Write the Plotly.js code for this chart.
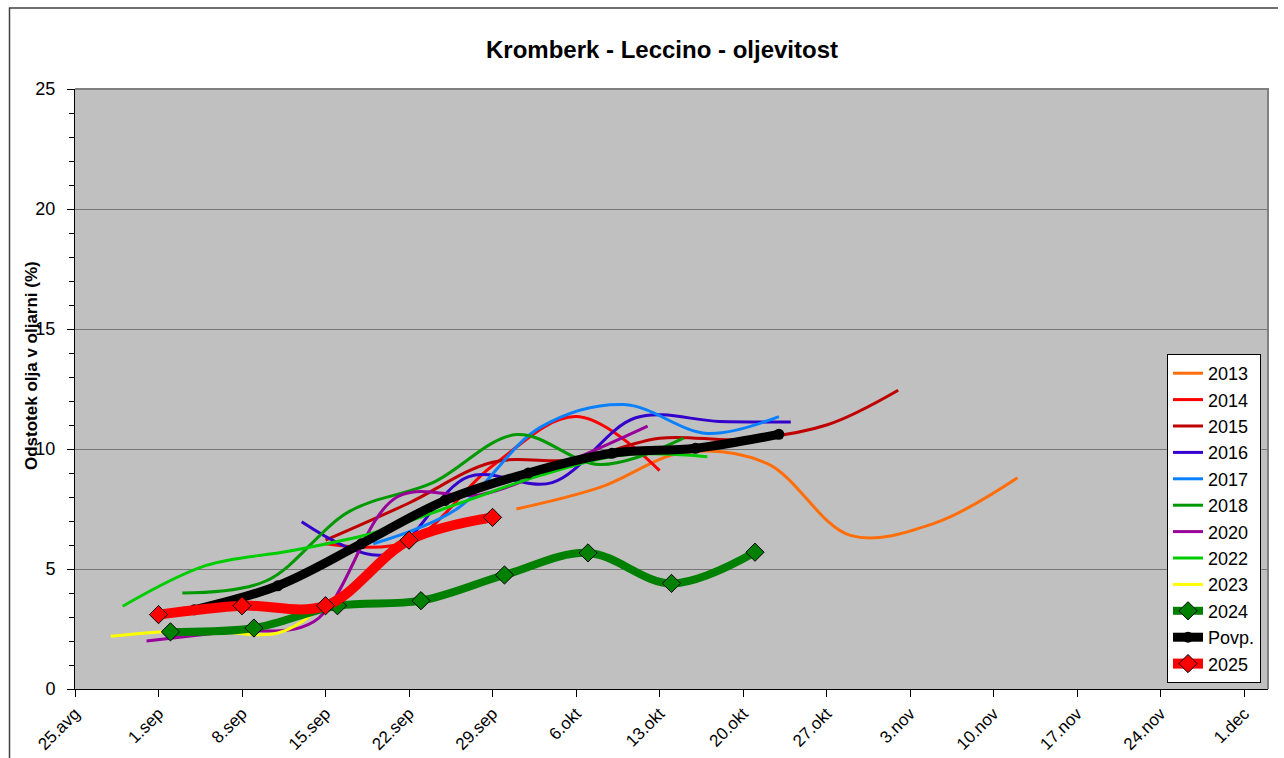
<!DOCTYPE html>
<html>
<head>
<meta charset="utf-8">
<script src="https://cdn.plot.ly/plotly-3.0.1.min.js"></script>
<style>html,body{margin:0;padding:0;background:#fff;}</style>
</head>
<body>
<div id="chart" style="width:1284px;height:758px;"></div>
<script>
// ---- data ----
const tickVals = ['2025-08-25','2025-09-01','2025-09-08','2025-09-15','2025-09-22','2025-09-29','2025-10-06','2025-10-13','2025-10-20','2025-10-27','2025-11-03','2025-11-10','2025-11-17','2025-11-24','2025-12-01'];
const tickText = ['25.avg','1.sep','8.sep','15.sep','22.sep','29.sep','6.okt','13.okt','20.okt','27.okt','3.nov','10.nov','17.nov','24.nov','1.dec'];

const x2013 = ['2025-10-01','2025-10-08','2025-10-15','2025-10-22','2025-10-29','2025-11-05','2025-11-12'];
const y2013 = [7.5, 8.4, 9.85, 9.4, 6.4, 6.9, 8.8];
const x2014 = ['2025-09-15','2025-09-22','2025-09-29','2025-10-06','2025-10-13'];
const y2014 = [6.05, 6.15, 9.3, 11.35, 9.1];
const x2015 = ['2025-09-15','2025-09-22','2025-09-29','2025-10-06','2025-10-13','2025-10-20','2025-10-27','2025-11-02'];
const y2015 = [6.2, 7.75, 9.45, 9.55, 10.45, 10.4, 11.0, 12.45];
const x2016 = ['2025-09-13','2025-09-20','2025-09-27','2025-10-04','2025-10-11','2025-10-18','2025-10-24'];
const y2016 = [6.97, 5.6, 8.85, 8.6, 11.3, 11.15, 11.13];
const x2017 = ['2025-09-19','2025-09-26','2025-10-03','2025-10-10','2025-10-17','2025-10-23'];
const y2017 = [6.05, 7.5, 10.9, 11.85, 10.65, 11.35];
const x2018 = ['2025-09-03','2025-09-10','2025-09-17','2025-09-24','2025-10-01','2025-10-08','2025-10-15'];
const y2018 = [4.0, 4.5, 7.4, 8.6, 10.6, 9.35, 10.45];
const x2020 = ['2025-08-31','2025-09-07','2025-09-14','2025-09-21','2025-09-28','2025-10-05','2025-10-12'];
const y2020 = [2.0, 2.4, 2.8, 8.0, 8.1, 9.4, 10.95];
const x2022 = ['2025-08-29','2025-09-05','2025-09-12','2025-09-19','2025-09-26','2025-10-03','2025-10-10','2025-10-17'];
const y2022 = [3.45, 5.15, 5.75, 6.5, 7.7, 8.9, 9.75, 9.68];
const x2023 = ['2025-08-28','2025-09-04','2025-09-11','2025-09-14'];
const y2023 = [2.2, 2.45, 2.33, 3.15];
const x2024 = ['2025-09-02','2025-09-09','2025-09-16','2025-09-23','2025-09-30','2025-10-07','2025-10-14','2025-10-21'];
const y2024 = [2.38, 2.54, 3.47, 3.68, 4.75, 5.67, 4.40, 5.70];
const xPovp = ['2025-09-04','2025-09-11','2025-09-18','2025-09-25','2025-10-02','2025-10-09','2025-10-16','2025-10-23'];
const yPovp = [3.3, 4.3, 6.05, 7.85, 9.0, 9.82, 10.03, 10.61];
const x2025 = ['2025-09-01','2025-09-08','2025-09-15','2025-09-22','2025-09-29'];
const y2025 = [3.1, 3.47, 3.47, 6.2, 7.15];

// ---- traces ----
function thin(name, x, y, color) {
  return {type:'scatter', mode:'lines', name:name, x:x, y:y,
    line:{color:color, width:3, shape:'spline', smoothing:1}};
}
const traces = [
  thin('2013', x2013, y2013, '#FF6E0A'),
  thin('2014', x2014, y2014, '#FF0000'),
  thin('2015', x2015, y2015, '#C00000'),
  thin('2016', x2016, y2016, '#3300CC'),
  thin('2017', x2017, y2017, '#0A80FF'),
  thin('2018', x2018, y2018, '#009900'),
  thin('2020', x2020, y2020, '#990099'),
  thin('2022', x2022, y2022, '#00CC00'),
  thin('2023', x2023, y2023, '#FFFF00'),
  {type:'scatter', mode:'lines+markers', name:'2024', x:x2024, y:y2024,
    line:{color:'#008000', width:8, shape:'spline', smoothing:1},
    marker:{symbol:'diamond', size:14, color:'#008000', line:{color:'#000', width:1}}},
  {type:'scatter', mode:'lines+markers', name:'Povp.', x:xPovp, y:yPovp,
    line:{color:'#000000', width:9, shape:'spline', smoothing:1},
    marker:{symbol:'circle', size:11, color:'#000000'}},
  {type:'scatter', mode:'lines+markers', name:'2025', x:x2025, y:y2025,
    line:{color:'#FF0000', width:10, shape:'spline', smoothing:1},
    marker:{symbol:'diamond', size:14, color:'#FF0000', line:{color:'#000', width:1}}}
];

const FONT = 'Liberation Sans, Arial, sans-serif';
const layout = {
  width:1284, height:758, autosize:false,
  margin:{l:75, r:16, t:89, b:69, pad:0},
  paper_bgcolor:'#FFFFFF', plot_bgcolor:'#C0C0C0',
  font:{family:FONT, color:'#000'},
  title:{text:'<b>Kromberk - Leccino - oljevitost</b>', font:{family:FONT, size:24, color:'#000'},
    xref:'container', x:662/1284, xanchor:'center', yref:'container', y:1-50/758, yanchor:'middle'},
  showlegend:true,
  legend:{x:(1167-75)/1193, y:(689-354)/600, xanchor:'left', yanchor:'top',
    bgcolor:'#FFFFFF', bordercolor:'#000', borderwidth:1,
    font:{family:FONT, size:18, color:'#000'}, traceorder:'normal'},
  xaxis:{type:'date', range:['2025-08-25','2025-12-03'], tickvals:tickVals, ticktext:tickText,
    tickangle:-45, ticks:'outside', ticklen:7, tickcolor:'#000', tickwidth:1,
    showline:true, linecolor:'#000', linewidth:1, showgrid:false, zeroline:false,
    tickfont:{family:FONT, size:17, color:'#000'}},
  yaxis:{range:[0,25], dtick:5, tick0:0, ticks:'outside', ticklen:7, tickcolor:'#000', tickwidth:1,
    minor:{dtick:1, ticks:'outside', ticklen:5, tickcolor:'#000', showgrid:false},
    showline:true, linecolor:'#000', linewidth:1, showgrid:true, gridcolor:'#777777', gridwidth:1,
    zeroline:false, ticklabelstandoff:8,
    tickfont:{family:FONT, size:18, color:'#000'}},
  annotations:[{text:'<b>Odstotek olja v oljarni (%)</b>', xref:'paper', yref:'paper',
    x:(31-75)/1193, y:(689-366)/600, xanchor:'center', yanchor:'middle', textangle:-90,
    showarrow:false, font:{family:FONT, size:17, color:'#000'}}],
  shapes:[
    {type:'path', xref:'paper', yref:'paper', path:'M 0,1 L 1,1 L 1,0', line:{color:'#808080', width:2}, layer:'above'},
    {type:'path', xref:'paper', yref:'paper',
      path:'M '+((9.5-75)/1193)+','+(-0.2)+' L '+((9.5-75)/1193)+','+((689-8)/600)+' L '+((1278-75)/1193)+','+((689-8)/600),
      line:{color:'#404040', width:1.5}, layer:'below'}
  ]
};

Plotly.newPlot('chart', traces, layout, {staticPlot:true, displayModeBar:false});
</script>
</body>
</html>
